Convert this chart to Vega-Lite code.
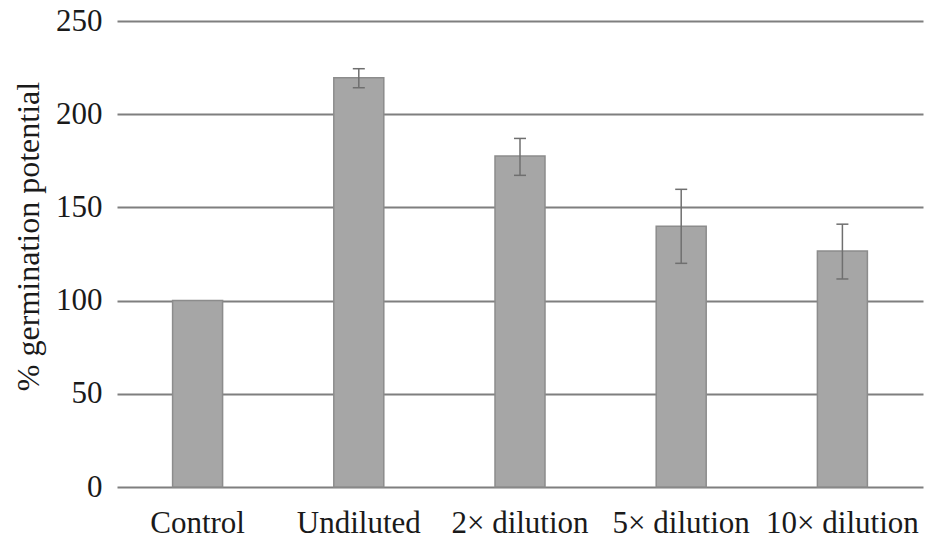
{
  "$schema": "https://vega.github.io/schema/vega-lite/v6.json",
  "autosize": {"type": "none"},
  "padding": {"left": 117, "top": 21, "right": 17, "bottom": 55},
  "width": 806,
  "height": 466,
  "background": "white",
  "config": {
    "view": {"stroke": null},
    "font": "Times New Roman, Liberation Serif, serif"
  },
  "data": {
    "values": [
      {"group": "Control", "value": 100, "lo": null, "hi": null},
      {"group": "Undiluted", "value": 219.6, "lo": 214.2, "hi": 224.4},
      {"group": "2× dilution", "value": 177.6, "lo": 167.2, "hi": 187},
      {"group": "5× dilution", "value": 139.9, "lo": 120, "hi": 159.7},
      {"group": "10× dilution", "value": 126.6, "lo": 111.6, "hi": 141}
    ]
  },
  "encoding": {
    "x": {
      "field": "group",
      "type": "nominal",
      "sort": null,
      "scale": {"paddingInner": 0, "paddingOuter": 0},
      "axis": {
        "title": null,
        "labelAngle": 0,
        "labelFont": "Times New Roman, Liberation Serif, serif",
        "labelFontSize": 31,
        "labelColor": "#1a1a1a",
        "labelPadding": 21,
        "domain": false,
        "ticks": false,
        "grid": false
      }
    }
  },
  "layer": [
    {
      "mark": {"type": "bar", "size": 50, "fill": "#a6a6a6", "stroke": "#8c8c8c", "strokeWidth": 1.5},
      "encoding": {
        "y": {
          "field": "value",
          "type": "quantitative",
          "scale": {"domain": [0, 250], "nice": false},
          "axis": {
            "title": "% germination potential",
            "titleFont": "Times New Roman, Liberation Serif, serif",
            "titleFontSize": 32,
            "titleFontWeight": "normal",
            "titleColor": "#1a1a1a",
            "titleX": -72,
            "titleY": 215,
            "titleAngle": -90,
            "titleAlign": "center",
            "titleBaseline": "bottom",
            "values": [0, 50, 100, 150, 200, 250],
            "labelFont": "Times New Roman, Liberation Serif, serif",
            "labelFontSize": 31,
            "labelColor": "#1a1a1a",
            "labelPadding": 15,
            "domain": false,
            "ticks": false,
            "grid": true,
            "gridColor": "#7f7f7f",
            "gridWidth": 2,
            "gridOpacity": 1
          }
        }
      }
    },
    {
      "transform": [{"filter": "datum.hi != null"}],
      "mark": {"type": "rule", "color": "#6f6f6f", "strokeWidth": 1.5},
      "encoding": {
        "y": {"field": "lo", "type": "quantitative"},
        "y2": {"field": "hi"}
      }
    },
    {
      "transform": [{"filter": "datum.hi != null"}],
      "mark": {"type": "tick", "color": "#6f6f6f", "size": 12, "thickness": 1.5, "opacity": 1},
      "encoding": {
        "y": {"field": "lo", "type": "quantitative"}
      }
    },
    {
      "transform": [{"filter": "datum.hi != null"}],
      "mark": {"type": "tick", "color": "#6f6f6f", "size": 12, "thickness": 1.5, "opacity": 1},
      "encoding": {
        "y": {"field": "hi", "type": "quantitative"}
      }
    }
  ]
}
